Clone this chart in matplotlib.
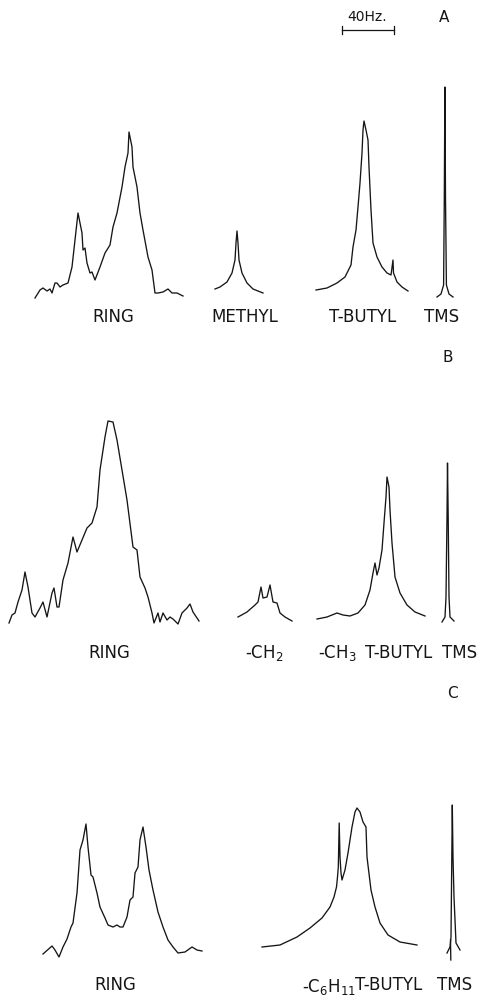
import matplotlib
matplotlib.use("Agg")
import matplotlib.pyplot as plt

# traced NMR spectra; x = position across the chart, y = intensity above baseline

# ---- panel A ----
a_ring_x = [35, 40, 43, 47, 50, 52, 55, 57, 60, 63, 68, 72, 75, 78, 82, 83, 85, 87, 90, 92, 95, 100,
            105, 110, 113, 117, 122, 125, 128, 129, 132, 133, 137, 140, 143, 148, 152, 155, 158,
            163, 168, 172, 177, 183]
a_ring_y = [-1, 7, 9, 6, 8, 4, 14, 14, 10, 12, 14, 30, 57, 84, 64, 47, 49, 34, 24, 25, 17, 30,
            44, 52, 70, 84, 110, 130, 144, 165, 150, 130, 110, 84, 67, 40, 27, 4, 4,
            5, 8, 4, 4, 1]
a_methyl_x = [215, 220, 227, 232, 235, 236, 237, 238, 239, 242, 247, 253, 263]
a_methyl_y = [8, 10, 15, 24, 37, 54, 66, 54, 37, 24, 14, 8, 4]
a_tbutyl_x = [316, 327, 337, 345, 351, 353, 356, 358, 360, 362, 363, 364, 366, 368, 369, 371,
              373, 377, 382, 387, 391, 393, 393.5, 397, 402, 408]
a_tbutyl_y = [7, 9, 14, 20, 32, 50, 67, 90, 114, 144, 167, 176, 167, 157, 130, 87,
              54, 40, 30, 24, 22, 37, 24, 15, 10, 6]
a_tms_x = [437, 441, 443.6, 444.3, 444.9, 445.5, 446.4, 449, 453]
a_tms_y = [0, 3, 12, 100, 210, 100, 12, 3, 0]

# ---- panel B ----
b_ring_x = [9, 12, 15, 18, 22, 25, 28, 32, 35, 40, 43, 47, 52, 54, 57, 59, 63, 68, 73, 77, 82, 87,
            92, 97, 100, 105, 108, 113, 117, 122, 127, 133, 137, 140, 145, 148, 152, 154, 158,
            160, 163, 167, 170, 173, 178, 182, 187, 190, 193, 199]
b_ring_y = [0, 8, 10, 21, 33, 51, 36, 10, 6, 15, 21, 6, 30, 35, 16, 16, 43, 60, 86, 71, 83, 95,
            100, 116, 153, 186, 202, 201, 183, 153, 123, 76, 73, 46, 35, 26, 10, 0, 10,
            1, 10, 3, 6, 4, -1, 10, 15, 19, 11, 2]
b_ch2_x = [238, 247, 255, 258, 261, 263, 267, 270, 273, 277, 280, 285, 292]
b_ch2_y = [6, 11, 18, 21, 36, 25, 26, 38, 21, 20, 10, 6, 2]
b_tbutyl_x = [317, 327, 337, 343, 350, 358, 365, 370, 373, 375, 377, 379, 382, 384, 386, 387,
              389, 390, 392, 395, 400, 407, 415, 425]
b_tbutyl_y = [4, 6, 10, 8, 7, 10, 18, 33, 50, 60, 48, 55, 73, 100, 126, 146,
              136, 113, 80, 46, 30, 18, 11, 7]
b_tms_x = [442, 445, 446, 447, 447.5, 448.2, 449, 450, 454]
b_tms_y = [1, 6, 26, 106, 160, 106, 26, 6, 2]

# ---- panel C ----
c_ring_x = [43, 52, 55, 59, 63, 67, 71, 73, 77, 80, 83, 86, 88, 91, 93, 97, 100, 105, 108, 113,
            117, 120, 123, 127, 130, 133, 135, 138, 140, 143, 146, 149, 153, 158, 163, 168,
            173, 178, 185, 192, 197, 202]
c_ring_y = [1, 9, 5, -2, 8, 16, 28, 32, 62, 105, 115, 131, 108, 80, 78, 62, 48, 37, 30, 28,
            30, 28, 28, 38, 55, 58, 82, 88, 115, 128, 108, 85, 65, 43, 28, 15,
            8, 2, 3, 8, 5, 4]
c_tbutyl_x = [262, 280, 297, 310, 322, 330, 334, 336.5, 337.5, 338.3, 339.2, 340, 341, 342,
              345, 348, 352, 355, 357, 360, 363, 366, 367, 371, 375, 380, 388, 400, 417]
c_tbutyl_y = [8, 10, 18, 27, 37, 48, 58, 68, 78, 88, 132, 98, 82, 75,
              85, 102, 128, 143, 147, 143, 133, 128, 98, 65, 48, 32, 20, 13, 10]
c_tms_x = [447, 450, 451, 451.8, 452.3, 453, 454, 456, 460]
c_tms_y = [2, 8, 18, 98, 150, 98, 58, 12, 5]
c_tail_x = [450.5, 450.8]
c_tail_y = [15, -5]

INK = "#151515"

fig = plt.figure(figsize=(4.8, 10), dpi=100, facecolor="white")


def panel(bottom, height, ylo, yhi):
    ax = fig.add_axes([0, bottom, 1, height])
    ax.set_xlim(0, 480)
    ax.set_ylim(ylo, yhi)
    ax.set_axis_off()
    return ax


def trace(ax, xs, ys):
    ax.plot(xs, ys, color=INK, lw=0.95, solid_joinstyle="round")


def label(ax, x, y, s, size=12):
    ax.text(x, y, s, ha="center", va="center", fontsize=size, color=INK,
            family="DejaVu Sans")


# A: rows 0-330 px, baseline at 297
ax_a = panel(0.67, 0.33, -33, 297)
for xs, ys in [(a_ring_x, a_ring_y), (a_methyl_x, a_methyl_y),
               (a_tbutyl_x, a_tbutyl_y), (a_tms_x, a_tms_y)]:
    trace(ax_a, xs, ys)
label(ax_a, 113, -20, "RING")
label(ax_a, 245, -20, "METHYL")
label(ax_a, 363, -20, "T-BUTYL")
label(ax_a, 442, -20, "TMS")
label(ax_a, 444, 279, "A", 11)
label(ax_a, 367, 280, "40Hz.", 10)
# 40 Hz scale bar
ax_a.plot([342, 394], [267, 267], color=INK, lw=0.9)
ax_a.plot([342, 342], [263, 271], color=INK, lw=0.9)
ax_a.plot([394, 394], [263, 271], color=INK, lw=0.9)

# B: rows 330-665 px, baseline at 623
ax_b = panel(0.335, 0.335, -42, 293)
for xs, ys in [(b_ring_x, b_ring_y), (b_ch2_x, b_ch2_y),
               (b_tbutyl_x, b_tbutyl_y), (b_tms_x, b_tms_y)]:
    trace(ax_b, xs, ys)
label(ax_b, 109, -30, "RING")
label(ax_b, 264, -30, "-CH$_2$")
label(ax_b, 337, -30, "-CH$_3$")
label(ax_b, 399, -30, "T-BUTYL")
label(ax_b, 460, -30, "TMS")
label(ax_b, 448, 266, "B", 11)

# C: rows 665-1000 px, baseline at 955
ax_c = panel(0.0, 0.335, -45, 290)
for xs, ys in [(c_ring_x, c_ring_y), (c_tbutyl_x, c_tbutyl_y),
               (c_tms_x, c_tms_y), (c_tail_x, c_tail_y)]:
    trace(ax_c, xs, ys)
label(ax_c, 115, -30, "RING")
label(ax_c, 329, -32, "-C$_6$H$_{11}$")
label(ax_c, 389, -30, "T-BUTYL")
label(ax_c, 455, -30, "TMS")
label(ax_c, 452, 262, "C", 11)

fig.savefig("out.png", dpi=100, facecolor="white")
